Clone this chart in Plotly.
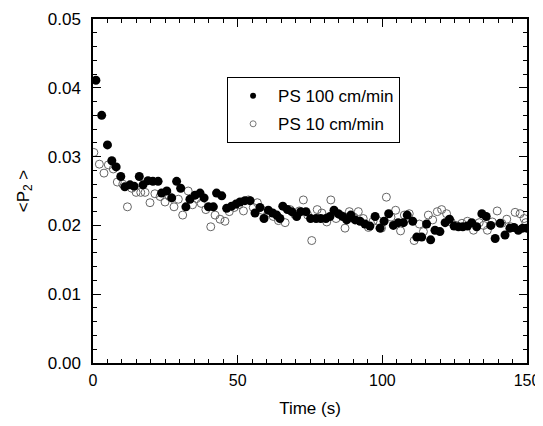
import plotly.graph_objects as go

# PS 100 cm/min (filled)
t_fast = [1.0, 3.0, 5.0, 6.5, 8.0, 9.6, 11.0, 12.8, 14.2, 16.0, 17.3, 19.0, 20.7, 22.5, 23.7,
          25.5, 27.2, 28.9, 30.3, 32.1, 33.5, 35.3, 37.0, 38.4, 39.9, 41.6, 42.7, 44.5, 46.2,
          47.9, 49.4, 50.8, 52.5, 54.3, 56.0, 57.7, 59.1, 60.6, 62.1, 63.5, 64.6, 65.6, 67.2,
          68.7, 70.4, 71.8, 73.6, 75.2, 77.1, 78.7, 80.5, 81.9, 83.3, 84.8, 86.3, 87.7, 89.1,
          90.6, 92.3, 94.0, 95.7, 97.5, 99.2, 100.6, 102.2, 103.8, 105.5, 107.3, 108.6, 110.5,
          111.9, 113.6, 115.3, 116.7, 118.2, 119.9, 121.7, 123.2, 124.8, 126.3, 127.8, 129.4,
          130.9, 132.6, 134.4, 135.9, 137.5, 139.0, 140.7, 142.4, 144.1, 145.5, 147.0, 148.5,
          149.9]
p2_fast = [0.0411, 0.0360, 0.0317, 0.0294, 0.0285, 0.0271, 0.0256, 0.0259, 0.0257, 0.0271,
           0.0259, 0.0265, 0.0264, 0.0264, 0.0247, 0.0250, 0.0240, 0.0264, 0.0254, 0.0227,
           0.0238, 0.0244, 0.0247, 0.0240, 0.0227, 0.0227, 0.0247, 0.0243, 0.0225, 0.0228,
           0.0231, 0.0234, 0.0236, 0.0236, 0.0218, 0.0226, 0.0210, 0.0222, 0.0218, 0.0215,
           0.0210, 0.0228, 0.0223, 0.0220, 0.0213, 0.0220, 0.0220, 0.0210, 0.0210, 0.0210,
           0.0210, 0.0213, 0.0222, 0.0217, 0.0213, 0.0208, 0.0215, 0.0208, 0.0206, 0.0202,
           0.0199, 0.0213, 0.0196, 0.0206, 0.0217, 0.0200, 0.0204, 0.0204, 0.0215, 0.0206,
           0.0183, 0.0183, 0.0202, 0.0179, 0.0193, 0.0191, 0.0204, 0.0209, 0.0199, 0.0198,
           0.0198, 0.0199, 0.0204, 0.0198, 0.0217, 0.0213, 0.0200, 0.0181, 0.0203, 0.0186,
           0.0196, 0.0197, 0.0193, 0.0196, 0.0196]

# PS 10 cm/min (open)
t_slow = [0.3, 2.2, 3.8, 5.3, 7.0, 8.4, 10.3, 11.9, 13.4, 14.9, 16.5, 18.0, 19.7, 21.4, 23.2,
          24.9, 26.4, 28.0, 29.5, 31.0, 32.9, 34.4, 35.8, 37.4, 39.0, 40.7, 42.2, 43.9, 45.6,
          47.1, 48.8, 50.4, 52.0, 53.7, 55.4, 56.8, 58.5, 60.5, 62.3, 64.1, 66.4, 68.1, 69.7,
          71.3, 72.7, 74.2, 75.6, 77.5, 79.1, 80.8, 82.2, 84.0, 85.5, 87.1, 88.6, 90.2, 91.7,
          93.4, 95.2, 96.8, 98.4, 99.7, 101.4, 103.0, 104.6, 106.3, 107.6, 109.3, 111.0, 112.8,
          114.2, 115.9, 117.4, 119.0, 120.5, 122.2, 123.8, 125.5, 127.5, 129.4, 131.5, 133.5,
          135.0, 136.3, 138.0, 139.7, 141.3, 143.0, 144.4, 145.9, 147.6, 149.0, 149.6]
p2_slow = [0.0306, 0.0289, 0.0276, 0.0288, 0.0282, 0.0263, 0.0260, 0.0227, 0.0254, 0.0248,
           0.0248, 0.0248, 0.0233, 0.0246, 0.0242, 0.0234, 0.0242, 0.0227, 0.0238, 0.0215,
           0.0250, 0.0230, 0.0239, 0.0232, 0.0223, 0.0198, 0.0215, 0.0209, 0.0206, 0.0220,
           0.0226, 0.0230, 0.0221, 0.0237, 0.0226, 0.0233, 0.0222, 0.0218, 0.0213, 0.0207,
           0.0204, 0.0223, 0.0216, 0.0221, 0.0237, 0.0215, 0.0178, 0.0223, 0.0218, 0.0205,
           0.0237, 0.0210, 0.0215, 0.0196, 0.0220, 0.0212, 0.0220, 0.0210, 0.0197, 0.0206,
           0.0207, 0.0196, 0.0241, 0.0212, 0.0222, 0.0192, 0.0215, 0.0217, 0.0178, 0.0202,
           0.0191, 0.0215, 0.0208, 0.0220, 0.0223, 0.0217, 0.0205, 0.0200, 0.0203, 0.0206,
           0.0193, 0.0204, 0.0200, 0.0193, 0.0205, 0.0221, 0.0203, 0.0209, 0.0198, 0.0219,
           0.0217, 0.0210, 0.0204]

name_fast = "PS 100 cm/min"
name_slow = "PS 10 cm/min"
x_ticks = [0, 50, 100, 150]
y_ticks = [0.00, 0.01, 0.02, 0.03, 0.04, 0.05]
y_tick_text = ["0.00", "0.01", "0.02", "0.03", "0.04", "0.05"]

FONT = "Arial, Liberation Sans, sans-serif"

fig = go.Figure()
fig.add_trace(go.Scatter(x=t_slow, y=p2_slow, mode="markers", showlegend=False,
                         marker=dict(symbol="circle-open", size=8, color="#666666",
                                     line=dict(width=1, color="#666666"))))
fig.add_trace(go.Scatter(x=t_fast, y=p2_fast, mode="markers", showlegend=False,
                         marker=dict(symbol="circle", size=9, color="black")))
# legend entries (smaller symbols as in the reference)
fig.add_trace(go.Scatter(x=[None], y=[None], mode="markers", name=name_fast, legendgroup="a",
                         marker=dict(symbol="circle", size=6, color="black")))
fig.add_trace(go.Scatter(x=[None], y=[None], mode="markers", name=name_slow, legendgroup="b",
                         marker=dict(symbol="circle-open", size=6, color="#777777",
                                     line=dict(width=1, color="#777777"))))

axis_common = dict(showline=True, linecolor="black", linewidth=1.5, mirror="allticks",
                   ticks="inside", ticklen=8, tickwidth=1, tickcolor="black",
                   showgrid=False, zeroline=False, automargin=False)

fig.update_xaxes(range=[0, 150], tickvals=x_ticks, ticklabelstandoff=2,
                 ticklabeloverflow="allow",
                 tickfont=dict(family=FONT, size=16, color="black"),
                 minor=dict(dtick=5, ticks="inside", ticklen=4, tickcolor="black", showgrid=False),
                 title=dict(text="Time (s)", font=dict(family=FONT, size=17, color="black"),
                            standoff=14),
                 **axis_common)
fig.update_yaxes(range=[0, 0.05], tickvals=y_ticks, ticktext=y_tick_text, ticklabelstandoff=7,
                 tickfont=dict(family=FONT, size=17, color="black"),
                 minor=dict(dtick=0.002, ticks="inside", ticklen=4, tickcolor="black", showgrid=False),
                 title=dict(text="&lt;P<sub>2</sub> &gt;", font=dict(family=FONT, size=17, color="black"),
                            standoff=14),
                 **axis_common)

# the page body adds an 8 px offset; the figure is sized so the page does not scroll
fig.update_layout(
    width=535, height=410,
    margin=dict(l=85, r=16, t=11, b=55),
    paper_bgcolor="white", plot_bgcolor="white",
    font=dict(family=FONT, size=17, color="black"),
    legend=dict(x=0.309, y=0.831, xanchor="left", yanchor="top",
                bordercolor="black", borderwidth=1, bgcolor="white",
                traceorder="grouped", tracegroupgap=3, itemwidth=40,
                font=dict(family=FONT, size=17, color="black")),
)

fig.write_html("out.html")
